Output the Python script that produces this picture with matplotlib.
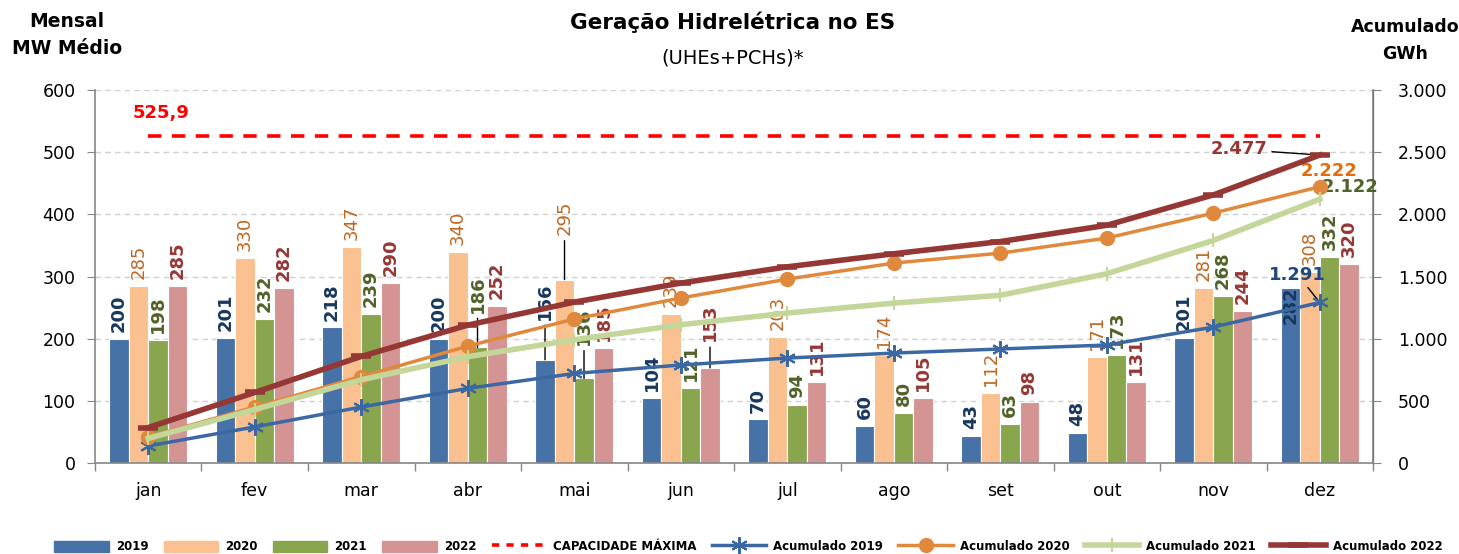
import numpy as np
import matplotlib
matplotlib.use('Agg')
import matplotlib.pyplot as plt
from matplotlib.lines import Line2D
from matplotlib.patches import Patch

plt.rcParams['font.family'] = ['DejaVu Sans']

meses = ['jan', 'fev', 'mar', 'abr', 'mai', 'jun', 'jul', 'ago', 'set', 'out', 'nov', 'dez']
anos = ['2019', '2020', '2021', '2022']

# geracao mensal (MW medio)
mensal_2019 = [200, 201, 218, 200, 166, 104, 70, 60, 43, 48, 201, 282]
mensal_2020 = [285, 330, 347, 340, 295, 239, 203, 174, 112, 171, 281, 308]
mensal_2021 = [198, 232, 239, 186, 136, 121, 94, 80, 63, 173, 268, 332]
mensal_2022 = [285, 282, 290, 252, 185, 153, 131, 105, 98, 131, 244, 320]

# acumulado (GWh)
acum_2019 = [137, 290, 450, 600, 720, 788, 844, 884, 917, 949, 1093, 1291]
acum_2020 = [209, 450, 695, 940, 1158, 1327, 1479, 1608, 1688, 1809, 2010, 2222]
acum_2021 = [198, 430, 669, 855, 991, 1112, 1206, 1286, 1349, 1522, 1790, 2122]
acum_2022 = [285, 567, 857, 1109, 1294, 1447, 1578, 1683, 1781, 1912, 2156, 2477]

capacidade = 525.9

cores_barra = ['#4672A7', '#FAC08F', '#89A54E', '#D49493']
cores_rotulo = ['#17375E', '#C0651E', '#4F6228', '#953735']
peso_rotulo = ['bold', 'normal', 'bold', 'bold']
cores_acum = ['#3B68A3', '#E0893C', '#C4D79B', '#953735']
cores_fim = ['#1F497D', '#E46C0A', '#4F6228', '#953735']

mensal = [mensal_2019, mensal_2020, mensal_2021, mensal_2022]
acum = [acum_2019, acum_2020, acum_2021, acum_2022]

# deslocamento extra dos rotulos (pontos) com linha guia: (serie, mes) -> offset
rotulo_especial = {(0, 4): 29, (1, 4): 32, (2, 4): 24, (3, 5): 19, (2, 3): 25, (0, 11): -26}

fig = plt.figure(figsize=(14.59, 5.54), dpi=100)
ax = fig.add_axes([0.0651, 0.1643, 0.8760, 0.6732])
ax2 = ax.twinx()

x = np.arange(len(meses))
w = 0.183
for i in range(4):
    pos = x + (i - 1.5) * w
    ax.bar(pos, mensal[i], w, color=cores_barra[i], edgecolor='white', linewidth=0.8, zorder=2)
    for j, v in enumerate(mensal[i]):
        off = rotulo_especial.get((i, j))
        if off is None:
            ax.annotate(str(v), (pos[j], v), xytext=(0, 5), textcoords='offset points',
                        rotation=90, ha='center', va='bottom', fontsize=13,
                        color=cores_rotulo[i], fontweight=peso_rotulo[i], zorder=3)
        else:
            arrow = dict(arrowstyle='-', color='black', lw=1, shrinkA=2, shrinkB=0) if off > 0 else None
            ax.annotate(str(v), (pos[j], v), xytext=(0, off), textcoords='offset points',
                        rotation=90, ha='center', va='bottom', fontsize=13,
                        color=cores_rotulo[i], fontweight=peso_rotulo[i], zorder=3,
                        arrowprops=arrow)

ax.plot(x, np.full(len(x), capacidade), color='#FF0000', lw=2.6, linestyle=(0, (3.7, 2.9)), zorder=4)
ax.text(0.12, 563, '525,9', color='#FF0000', fontsize=13, fontweight='bold', ha='center', va='center')

ax.set_ylim(0, 600)
ax.set_yticks(np.arange(0, 601, 100))
ax.set_xlim(-0.5, 11.5)
ax.set_xticks(x)
ax.set_xticklabels(meses)
ax.set_xticks(np.arange(-0.5, 12, 1), minor=True)
ax.tick_params(axis='x', which='major', length=0, pad=14, labelsize=12.5)
ax.tick_params(axis='x', which='minor', length=6, color='#868686', width=1)
ax.tick_params(axis='y', length=6, color='#868686', pad=8, labelsize=12.5)
ax.grid(axis='y', color='#D0D0D0', linestyle=(0, (4, 3)), lw=1)
ax.set_axisbelow(True)
for s in ['top']:
    ax.spines[s].set_visible(False)
    ax2.spines[s].set_visible(False)
for s in ['left', 'bottom']:
    ax.spines[s].set_color('#868686')
    ax.spines[s].set_linewidth(1.2)
ax2.spines['right'].set_color('#868686')
ax2.spines['right'].set_linewidth(1.2)
ax2.spines['left'].set_visible(False)
ax2.spines['bottom'].set_visible(False)

marcadores = [dict(marker=(6, 2, 0), markersize=12, mew=1.5),
              dict(marker='o', markersize=10),
              dict(marker='|', markersize=10, mew=1.5),
              dict(marker='_', markersize=14, mew=4)]
larguras = [2.5, 2.5, 4, 4]
for i in range(4):
    ax2.plot(x, acum[i], color=cores_acum[i], lw=larguras[i], zorder=5, **marcadores[i])

ax2.set_ylim(0, 3000)
ax2.set_yticks(np.arange(0, 3001, 500))
ax2.set_yticklabels([f'{v:,.0f}'.replace(',', '.') for v in np.arange(0, 3001, 500)])
ax2.tick_params(axis='y', length=6, color='#868686', pad=12, labelsize=12.5)

def fmt(v):
    return f'{v:,.0f}'.replace(',', '.')

fim = len(meses) - 1
linha = dict(arrowstyle='-', color='black', lw=1, shrinkA=1, shrinkB=2)
ax2.annotate(fmt(acum_2022[-1]), (fim, acum_2022[-1]), xytext=(-58, 4), textcoords='offset points',
             ha='center', va='center', fontsize=13, fontweight='bold', color=cores_fim[3], arrowprops=linha)
ax2.annotate(fmt(acum_2020[-1]), (fim, acum_2020[-1]), xytext=(7, 11), textcoords='offset points',
             ha='center', va='center', fontsize=13, fontweight='bold', color=cores_fim[1])
ax2.annotate(fmt(acum_2021[-1]), (fim, acum_2021[-1]), xytext=(22, 9), textcoords='offset points',
             ha='center', va='center', fontsize=13, fontweight='bold', color=cores_fim[2])
ax2.annotate(fmt(acum_2019[-1]), (fim, acum_2019[-1]), xytext=(-16, 20), textcoords='offset points',
             ha='center', va='center', fontsize=13, fontweight='bold', color=cores_fim[0], arrowprops=linha)

fig.text(0.502, 0.96, 'Geração Hidrelétrica no ES', ha='center', va='center', fontsize=15.5, fontweight='bold')
fig.text(0.502, 0.895, '(UHEs+PCHs)*', ha='center', va='center', fontsize=14)
fig.text(0.046, 0.962, 'Mensal', ha='center', va='center', fontsize=13.5, fontweight='bold')
fig.text(0.046, 0.912, 'MW Médio', ha='center', va='center', fontsize=13.5, fontweight='bold')
fig.text(0.963, 0.952, 'Acumulado', ha='center', va='center', fontsize=12.5, fontweight='bold')
fig.text(0.963, 0.902, 'GWh', ha='center', va='center', fontsize=12.5, fontweight='bold')

handles = [Patch(color=c) for c in cores_barra]
handles.append(Line2D([], [], color='#FF0000', lw=2.6, linestyle=(0, (2, 2))))
for i in range(4):
    handles.append(Line2D([], [], color=cores_acum[i], lw=larguras[i], **marcadores[i]))
labels = anos + ['CAPACIDADE MÁXIMA'] + ['Acumulado ' + a for a in anos]
leg = fig.legend(handles, labels, loc='center', bbox_to_anchor=(0.513, 0.013), ncol=9, frameon=False,
                 prop={'weight': 'bold', 'size': 8.5}, handlelength=4.6, handletextpad=0.6,
                 columnspacing=1.3, handleheight=1.1, borderpad=0.1)

fig.savefig('out.png', dpi=100)
